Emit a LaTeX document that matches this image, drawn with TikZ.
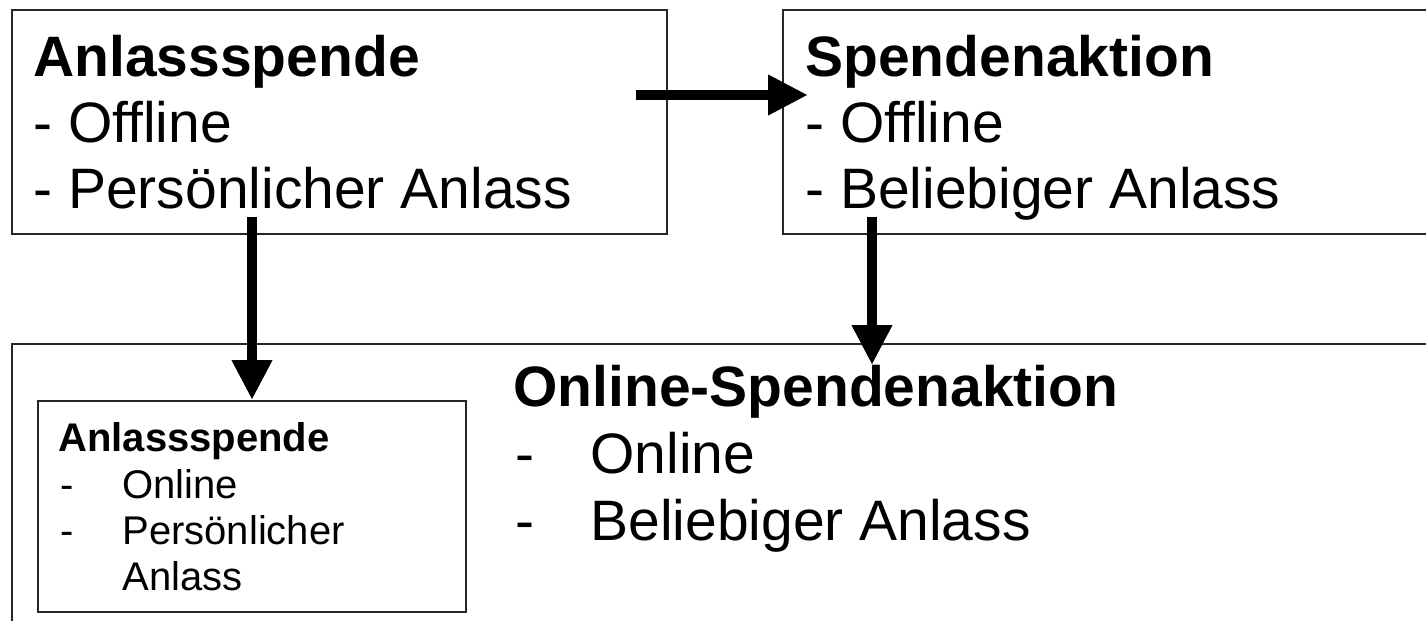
\documentclass[tikz,border=0pt]{standalone}
\usepackage{fontspec}
\setmainfont{Liberation Sans}
\usetikzlibrary{arrows.meta}
\begin{document}
\begin{tikzpicture}[x=0.5pt,y=-0.5pt,
 box/.style={draw=black!85, line width=1pt, inner sep=0pt, rectangle},
 big/.style={font=\fontsize{28.5}{34}\selectfont, inner sep=0pt, anchor=base west},
 bigb/.style={inner sep=0pt, anchor=base west, font=\fontsize{28.5}{34}\selectfont\bfseries},
 small/.style={font=\fontsize{20}{24}\selectfont, inner sep=0pt, anchor=base west},
 smallb/.style={inner sep=0pt, anchor=base west, font=\fontsize{20}{24}\selectfont\bfseries},
 arr/.style={line width=5pt, -{Triangle[width=19pt,length=20pt]}}]
\useasboundingbox (0,0) rectangle (1426,621);
\clip (0,0) rectangle (1426,621);
\fill[white] (0,0) rectangle (1426,621);
% boxes
\node[box, minimum width=327.5pt, minimum height=112pt] (b1) at (339.5,122) {};
\node[box, minimum width=331.5pt, minimum height=112pt] (b2) at (1114.5,122) {};
\node[box, minimum width=717pt, minimum height=148.5pt] (b3) at (729,492.5) {};
\node[box, minimum width=214pt, minimum height=105.5pt] (b4) at (252,506.5) {};
% top-left text
\node[bigb] (t1a) at (33,76) {Anlassspende};
\node[big] (t1b) at (33,142) {- Offline};
\node[big] (t1c) at (33,208) {- Persönlicher Anlass};
% top-right text
\node[bigb] (t2a) at (805,76) {Spendenaktion};
\node[big] (t2b) at (805,142) {- Offline};
\node[big] (t2c) at (805,208) {- Beliebiger Anlass};
% big box text
\node[bigb] (t3a) at (513,406) {Online-Spendenaktion};
\node[big] (t3b) at (515,473) {-};
\node[big] (t3c) at (590,473) {Online};
\node[big] (t3d) at (515,540) {-};
\node[big] (t3e) at (590,540) {Beliebiger Anlass};
% inner box text
\node[smallb] (t4a) at (58,451) {Anlassspende};
\node[small] (t4b) at (60,498) {-};
\node[small] (t4c) at (122,498) {Online};
\node[small] (t4d) at (60,544) {-};
\node[small] (t4e) at (122,544) {Persönlicher};
\node[small] (t4f) at (122,590) {Anlass};
% arrows
\coordinate (h0) at (636,95);
\coordinate (h1) at (808,95);
\coordinate (v0) at (252,217);
\coordinate (v2) at (872,217);
\coordinate (v3) at (872,365);
\draw[arr] (h0) -- (h1);
\draw[arr] (v0) -- (v0 |- b4.north);
\draw[arr] (v2) -- (v3);
\end{tikzpicture}
\end{document}
